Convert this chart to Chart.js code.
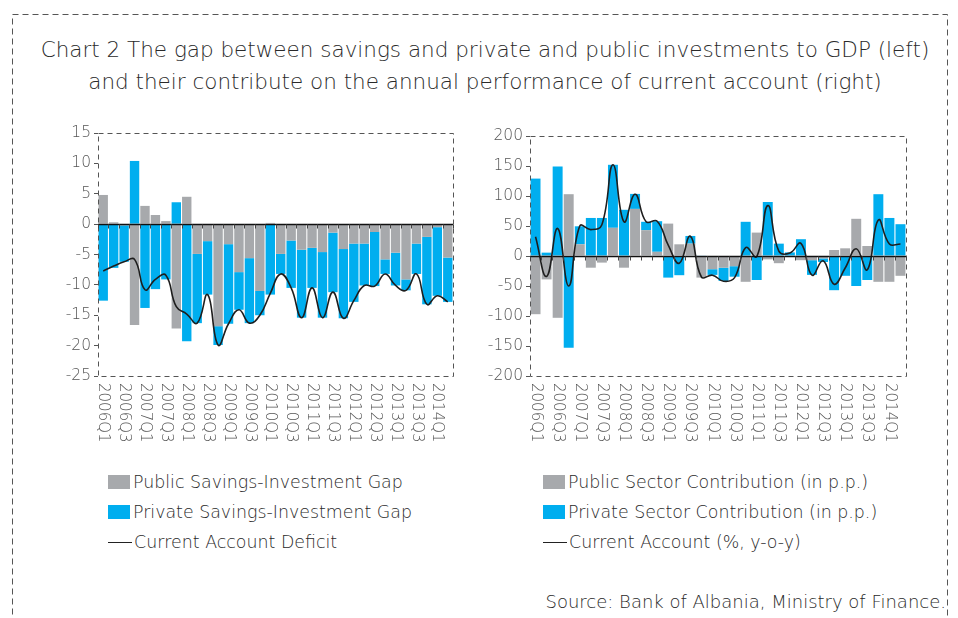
<!DOCTYPE html>
<html>
<head>
<meta charset="utf-8">
<script src="https://cdn.jsdelivr.net/npm/chart.js@4.4.1/dist/chart.umd.min.js"></script>
<style>
  html, body { margin:0; padding:0; background:#fff; }
  body { width:958px; height:618px; position:relative; overflow:hidden; font-family:"DejaVu Sans", sans-serif; color:#333; }
  #frame { position:absolute; left:0; top:0; }
  .title { position:absolute; left:6px; top:34px; width:958px; text-align:center; font-size:21.5px; font-weight:200; line-height:32px; color:#2a2a2a; }
  .wrap { position:absolute; }
  .legend { position:absolute; font-size:17.4px; font-weight:200; color:#2a2a2a; }
  .legend div { height:30px; display:flex; align-items:center; white-space:nowrap; }
  .sw { display:inline-block; width:22px; height:14px; margin-right:3px; }
  .ln { display:inline-block; width:24px; height:0; border-top:1.6px solid #222; margin-right:2px; }
  .source { position:absolute; right:12px; top:591px; font-size:18px; font-weight:200; color:#2a2a2a; }
</style>
</head>
<body>
<svg id="frame" width="958" height="618">
  <rect x="12.5" y="14.5" width="935" height="640" fill="none" stroke="#555" stroke-width="1" stroke-dasharray="6 4"/>
</svg>
<div class="title">Chart 2 The gap between savings and private and public investments to GDP (left)<br>and their contribute on the annual performance of current account (right)</div>

<div class="wrap" style="left:40px;top:118px;width:430px;height:330px;"><canvas id="left"></canvas></div>
<div class="wrap" style="left:470px;top:118px;width:460px;height:330px;"><canvas id="right"></canvas></div>

<div class="legend" style="left:108px;top:467px;">
  <div><span class="sw" style="background:#A7A9AC"></span>Public Savings-Investment Gap</div>
  <div><span class="sw" style="background:#00AEEF"></span>Private Savings-Investment Gap</div>
  <div><span class="ln"></span>Current Account Deficit</div>
</div>
<div class="legend" style="left:543px;top:467px;">
  <div><span class="sw" style="background:#A7A9AC"></span>Public Sector Contribution (in p.p.)</div>
  <div><span class="sw" style="background:#00AEEF"></span>Private Sector Contribution (in p.p.)</div>
  <div><span class="ln"></span>Current Account (%, y-o-y)</div>
</div>
<div class="source">Source: Bank of Albania, Ministry of Finance.</div>

<script>
// ============ Data ============
const quarters = [
  "2006Q1","2006Q2","2006Q3","2006Q4","2007Q1","2007Q2","2007Q3","2007Q4",
  "2008Q1","2008Q2","2008Q3","2008Q4","2009Q1","2009Q2","2009Q3","2009Q4",
  "2010Q1","2010Q2","2010Q3","2010Q4","2011Q1","2011Q2","2011Q3","2011Q4",
  "2012Q1","2012Q2","2012Q3","2012Q4","2013Q1","2013Q2","2013Q3","2013Q4",
  "2014Q1","2014Q2"
];

// left: savings-investment gaps, % of GDP
const publicGap  = [4.8, 0.3, -0.2, -16.6, 3.0, 1.5, 0.5, -17.2, 4.5, -4.9, -2.8, -16.8, -3.3, -7.9, -5.6, -11.0,
                    0.2, -4.9, -2.7, -4.2, -3.9, -4.6, -1.4, -4.1, -3.2, -3.2, -1.3, -5.8, -4.7, -9.1, -3.2, -2.1, -0.5, -5.5];
const privateGap = [-12.6, -7.2, -6.0, 10.4, -13.8, -10.7, -9.1, 3.6, -19.3, -11.4, -8.8, -3.1, -13.1, -6.2, -10.7, -4.0,
                    -11.6, -3.3, -7.8, -11.2, -6.6, -10.8, -9.8, -11.4, -9.6, -6.9, -8.9, -2.4, -5.4, -1.8, -5.0, -11.1, -11.3, -7.3];
const caDeficit  = [-7.7, -6.9, -6.2, -5.8, -10.8, -9.1, -8.4, -13.6, -14.8, -16.3, -11.6, -19.9, -16.4, -14.1, -16.3, -15.0,
                    -11.4, -8.2, -10.5, -15.4, -10.5, -15.4, -11.2, -15.5, -12.6, -10.1, -10.2, -8.2, -10.1, -10.9, -8.2, -13.2, -11.8, -12.8];

// right: contributions to current account y-o-y change, p.p.
const publicContrib  = [-97, -39, -103, 103, 19.5, -19.5, -11, 47, -19.5, 78.5, 43, 7, 54, 19.5, 20.6, -36,
                        -22, -19.5, -17, -43, 39, -5.6, -12, -1, -7, -7, -4, 10, 12.8, 62, 16.7, -43, -43, -33];
const privateContrib = [129, 5.6, 149, -153, 30, 63.4, 63.4, 105, 77, 25, 14, 51, -36, -32, 12.8, 1,
                        -9.5, -22, -17.5, 57, -40, 90, 20.6, 6, 28, -24.5, -6, -57, -33, -50, -40, 103, 63.4, 53];
const caChange       = [32, -34, 46, -50, 50, 44, 52, 152, 57, 103, 57, 58, 18, -12, 33, -35,
                        -32, -42, -36, 14, -1, 84, 8, 5, 21, -32, -8, -47, -20, 12, -23, 60, 20, 20];

const leftAxis  = { min: -25,  max: 15,  step: 5 };
const rightAxis = { min: -200, max: 200, step: 50 };

// ============ Defaults ============
Chart.defaults.font.family = "DejaVu Sans";
Chart.defaults.animation = false;

const GRAY = "#A7A9AC", BLUE = "#00AEEF";

// dashed plot box, zero axis with ticks, vertical quarter labels
const framePlugin = {
  id: "frame",
  afterDatasetsDraw(chart){
    const { ctx, chartArea: a, scales: { y } } = chart;
    ctx.save();
    ctx.strokeStyle = "#555"; ctx.lineWidth = 1; ctx.setLineDash([5, 4]);
    ctx.strokeRect(Math.round(a.left) + 0.5, Math.round(a.top) + 0.5, Math.round(a.right - a.left), Math.round(a.bottom - a.top));
    ctx.setLineDash([]);

    const y0 = Math.round(y.getPixelForValue(0)) + 0.5;
    ctx.strokeStyle = "#111"; ctx.lineWidth = 1.3;
    ctx.beginPath(); ctx.moveTo(a.left, y0); ctx.lineTo(a.right, y0); ctx.stroke();
    const step = (a.right - a.left) / quarters.length;
    ctx.lineWidth = 1; ctx.strokeStyle = "#444";
    ctx.beginPath();
    for (let i = 0; i <= quarters.length; i++){
      const px = Math.round(a.left + i * step) + 0.5;
      ctx.moveTo(px, y0); ctx.lineTo(px, y0 + 4);
    }
    ctx.stroke();
    ctx.restore();
  },
  afterDraw(chart){
    const { ctx, chartArea: a, scales: { x } } = chart;
    ctx.save();
    ctx.fillStyle = "#555"; ctx.font = "200 15px 'DejaVu Sans'";
    ctx.textAlign = "left"; ctx.textBaseline = "middle";
    quarters.forEach((q, i) => {
      if (i % 2) return;
      ctx.save();
      ctx.translate(x.getPixelForValue(i), a.bottom + 7);
      ctx.rotate(Math.PI / 2);
      ctx.fillText(q, 0, 0);
      ctx.restore();
    });
    ctx.restore();
  }
};

function makeChart(id, pub, priv, line, axis, yWidth, padding){
  return new Chart(document.getElementById(id), {
    type: "bar",
    data: {
      labels: quarters,
      datasets: [
        { type: "line", data: line, borderColor: "#1e1e1e", borderWidth: 1.6, pointRadius: 0,
          tension: 0.45, stack: "line", order: 0 },
        { data: pub,  backgroundColor: GRAY, stack: "bars", order: 1,
          categoryPercentage: 0.9, barPercentage: 1 },
        { data: priv, backgroundColor: BLUE, stack: "bars", order: 2,
          categoryPercentage: 0.9, barPercentage: 1 }
      ]
    },
    options: {
      responsive: true,
      maintainAspectRatio: false,
      layout: { padding },
      scales: {
        x: { display: false, stacked: true },
        y: {
          stacked: true,
          min: axis.min, max: axis.max,
          afterFit(scale){ scale.width = yWidth; },
          ticks: { stepSize: axis.step, color: "#555", padding: 3, font: { size: 15.5, weight: 200 } },
          grid: { drawOnChartArea: false, drawTicks: true, tickLength: 4, color: "#555" },
          border: { display: false }
        }
      },
      plugins: { legend: { display: false }, tooltip: { enabled: false } }
    },
    plugins: [framePlugin]
  });
}

makeChart("left",  publicGap,     privateGap,     caDeficit, leftAxis,  58, { top: 15, right: 17, bottom: 72, left: 0 });
makeChart("right", publicContrib, privateContrib, caChange,  rightAxis, 60, { top: 18, right: 24, bottom: 72, left: 0 });
</script>
</body>
</html>
